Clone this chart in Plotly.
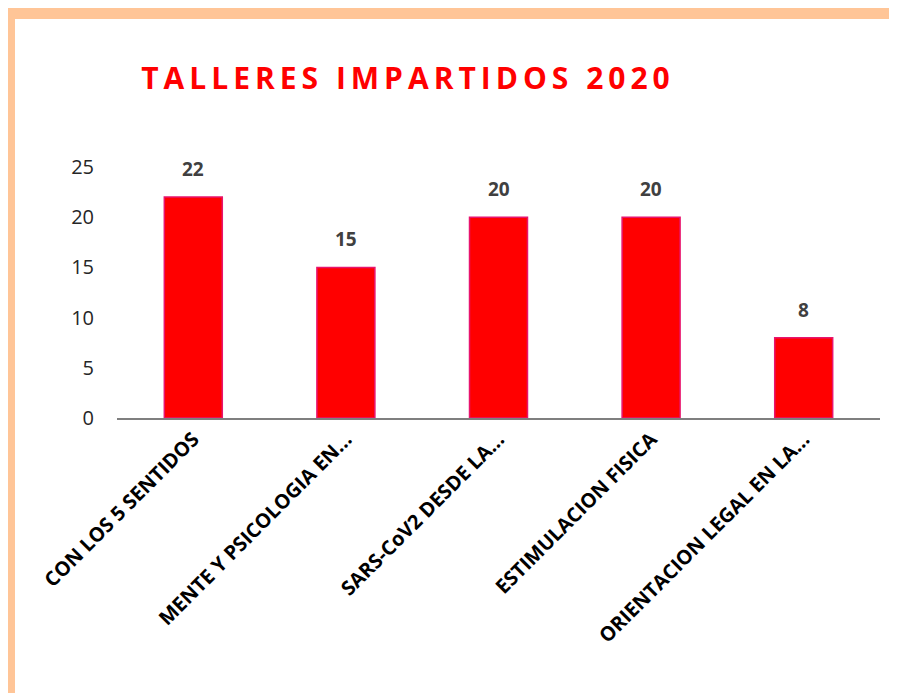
import plotly.graph_objects as go

categories = ["CON LOS 5 SENTIDOS", "MENTE Y PSICOLOGIA EN...", "SARS-CoV2 DESDE LA...",
              "ESTIMULACION FISICA", "ORIENTACION LEGAL EN LA..."]
values = [22, 15, 20, 20, 8]
y_ticks = [0, 5, 10, 15, 20, 25]
title_text = "TALLERES IMPARTIDOS 2020"

# page body has an 8px margin: work in figure coordinates
W, H = 889, 685
L, R, T, B = 109, 17, 159, 275
pw, ph = W - L - R, H - T - B

def px(x):
    return (x - L) / pw

def py(y):
    return (H - B - y) / ph

fig = go.Figure()
fig.add_trace(go.Bar(
    x=categories, y=values, width=0.38,
    marker=dict(color="#FF0000", line=dict(color="#E8146E", width=1.5)),
    hoverinfo="x+y",
))

annotations = []
for c, v in zip(categories, values):
    annotations.append(dict(x=c, y=v, xref="x", yref="y", text=f"<b>{v}</b>",
                            showarrow=False, yanchor="bottom", yshift=13,
                            font=dict(family="Open Sans", size=19, color="#404040")))

# soft orange frame
lw = 12
shapes = [dict(type="rect", xref="paper", yref="paper",
               x0=px(7 - lw / 2), y0=py(H + 40), x1=px(W + 40), y1=py(11 - lw / 2),
               line=dict(color="#FFC597", width=lw), layer="below")]

fig.update_layout(
    width=W, height=H,
    margin=dict(l=L, r=R, t=T, b=B),
    paper_bgcolor="white", plot_bgcolor="white",
    showlegend=False,
    title=dict(text=f"<b><span style='letter-spacing:5px'>{title_text}</span></b>",
               x=400 / W, xanchor="center",
               y=1 - 70 / H, yanchor="middle", xref="container", yref="container",
               font=dict(family="Open Sans", size=30, color="#FF0000")),
    xaxis=dict(showline=True, linecolor="#7F7F7F", linewidth=1.5, ticks="",
               tickangle=-45, showgrid=False,
               tickfont=dict(family="Open Sans", size=20, color="#000000", weight="bold"),
               range=[-0.5, 4.5]),
    yaxis=dict(range=[0, 25], tickvals=y_ticks, showgrid=False, zeroline=False,
               showline=False, ticks="", ticklabelstandoff=22,
               tickfont=dict(family="Open Sans", size=20, color="#262626")),
    annotations=annotations,
    shapes=shapes,
)

fig.write_html("out.html")
